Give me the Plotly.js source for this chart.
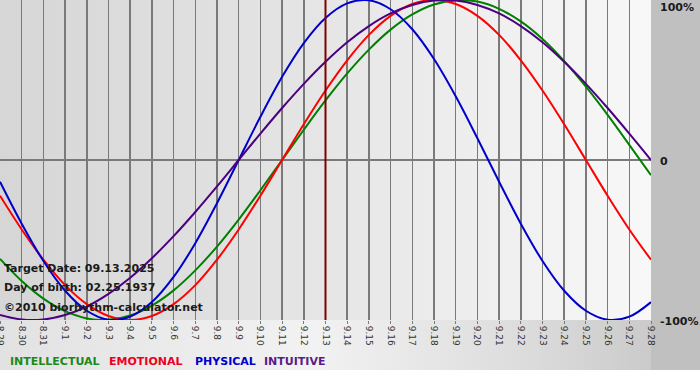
<!DOCTYPE html>
<html>
<head>
<meta charset="utf-8">
<script src="https://cdn.plot.ly/plotly-3.0.1.min.js"></script>
<style>
  html, body { margin: 0; padding: 0; background: #fff; }
  #chart {
    width: 700px; height: 380px;
    background:
      linear-gradient(to right, #d6d6d6, #e4e4e4 45%, #f8f8f8) 0 0 / 651px 320px no-repeat,
      linear-gradient(#c0c0c0, #c0c0c0) 651px 0 / 49px 370px no-repeat,
      linear-gradient(to right, #e2e2e2, #f2f2f2 45%, #dcdcdc 75%, #c4c4c4) 0 320px / 700px 50px no-repeat,
      #ffffff;
  }
</style>
</head>
<body>
<div id="chart"></div>
<script>
const dates = ["8.29","8.30","8.31","9.1","9.2","9.3","9.4","9.5","9.6","9.7","9.8","9.9","9.10",
  "9.11","9.12","9.13","9.14","9.15","9.16","9.17","9.18","9.19","9.20","9.21","9.22","9.23",
  "9.24","9.25","9.26","9.27","9.28"];

const intellectual = [-0.618,-0.756,-0.866,-0.945,-0.990,-0.999,-0.972,-0.910,-0.815,-0.690,-0.541,
  -0.372,-0.189,0,0.189,0.372,0.541,0.690,0.815,0.910,0.972,0.999,0.990,0.945,0.866,0.756,0.618,
  0.458,0.282,0.095,-0.095];
const emotional = [-0.223,-0.434,-0.623,-0.782,-0.901,-0.975,-1.0,-0.975,-0.901,-0.782,-0.623,
  -0.434,-0.223,0,0.223,0.434,0.623,0.782,0.901,0.975,1.0,0.975,0.901,0.782,0.623,0.434,0.223,
  0,-0.223,-0.434,-0.623];
const physical = [-0.136,-0.398,-0.631,-0.817,-0.942,-0.998,-0.979,-0.888,-0.731,-0.520,-0.270,
  0,0.270,0.520,0.731,0.888,0.979,0.998,0.942,0.817,0.631,0.398,0.136,-0.136,-0.398,-0.631,
  -0.817,-0.942,-0.998,-0.979,-0.888];
const intuitive = [-0.969,-0.997,-0.997,-0.969,-0.916,-0.837,-0.736,-0.614,-0.476,-0.325,-0.165,
  0,0.165,0.325,0.476,0.614,0.736,0.837,0.916,0.969,0.997,0.997,0.969,0.916,0.837,0.736,0.614,
  0.476,0.325,0.165,0];

const targetDate = "9.13";
const infoLines = ["Target Date: 09.13.2025", "Day of birth: 02.25.1937", "\u00a92010 biorhythm-calculator.net"];
const seriesNames = ["INTELLECTUAL", "EMOTIONAL", "PHYSICAL", "INTUITIVE"];
const yTickVals = [1, 0, -1];
const yTickText = ["100%", "0", "-100%"];

const colors = ["#008000", "#ff0000", "#0000cc", "#4b0082"];
const legendColors = ["#1a8a1a", "#ee0022", "#0000cc", "#5a1a8a"];
const series = [intellectual, emotional, physical, intuitive];

const traces = series.map((vals, i) => ({
  type: "scatter", mode: "lines", x: dates, y: vals, name: seriesNames[i],
  line: { color: colors[i], width: 2, shape: "spline" }, hoverinfo: "skip"
}));

const bold = { family: "DejaVu Sans", size: 11, color: "#1a1a1a", weight: "bold" };

const annotations = [];
infoLines.forEach((t, i) => {
  const yPix = [268, 287, 307][i];
  annotations.push({ xref: "paper", yref: "paper", x: 2 / 651, y: (320 - yPix) / 320,
    xanchor: "left", yanchor: "middle", showarrow: false, text: "<b>" + t + "</b>", font: bold });
});
const legX = [8, 107, 193, 262];
seriesNames.forEach((n, i) => {
  annotations.push({ xref: "paper", yref: "paper", x: legX[i] / 651, y: (320 - 361) / 320,
    xanchor: "left", yanchor: "middle", showarrow: false, text: "<b>" + n + "</b>",
    font: { family: "DejaVu Sans", size: 11, color: legendColors[i] } });
});
yTickVals.forEach((v, i) => {
  annotations.push({ xref: "paper", yref: "y", x: 658 / 651, y: v,
    xanchor: "left", yanchor: v === 1 ? "top" : "middle", yshift: v === 1 ? 1 : -1,
    showarrow: false, text: "<b>" + yTickText[i] + "</b>", font: bold });
});

const targetIdx = dates.indexOf(targetDate);

const layout = {
  width: 700, height: 380,
  margin: { l: 0, r: 49, t: 0, b: 60, pad: 0 },
  paper_bgcolor: "rgba(0,0,0,0)", plot_bgcolor: "rgba(0,0,0,0)",
  showlegend: false,
  xaxis: {
    type: "category", range: [0, dates.length - 1], tickvals: dates, ticktext: dates,
    tickangle: 90, tickfont: { family: "DejaVu Sans", size: 9, color: "#333" },
    showgrid: true, gridcolor: "#7a7a7a", gridwidth: 1.5,
    ticks: "outside", ticklen: 3, tickcolor: "#7a7a7a", showline: false, zeroline: false, fixedrange: true
  },
  yaxis: {
    range: [-1, 1], tickvals: [0, 1], showticklabels: false,
    showgrid: true, gridcolor: "#7a7a7a", gridwidth: 1.5, zeroline: false, showline: false, fixedrange: true
  },
  shapes: [{ type: "line", xref: "x", yref: "paper", x0: targetIdx, x1: targetIdx, y0: 0, y1: 1,
    line: { color: "#800000", width: 2 } }],
  annotations: annotations
};

Plotly.newPlot("chart", traces, layout, { staticPlot: true, displayModeBar: false });
</script>
</body>
</html>
